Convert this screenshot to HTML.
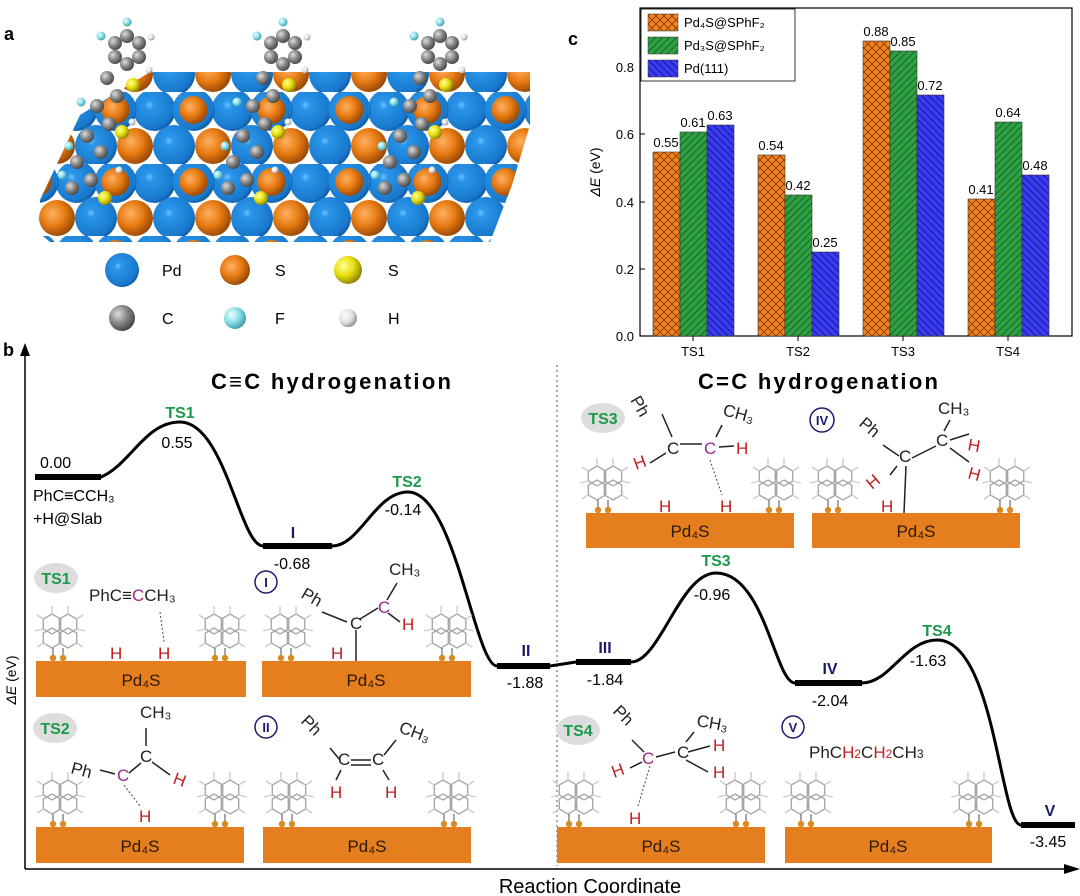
<!DOCTYPE html>
<html><head><meta charset="utf-8"><style>
body{margin:0;background:#fff}
svg{display:block;font-family:"Liberation Sans",Arial,sans-serif}
</style></head><body>
<svg width="1080" height="896" viewBox="0 0 1080 896" xmlns="http://www.w3.org/2000/svg">
<defs>
<radialGradient id="gb" cx="0.38" cy="0.38" r="0.7"><stop offset="0" stop-color="#6ec0ff"/><stop offset="0.15" stop-color="#2a96ea"/><stop offset="0.8" stop-color="#1878cc"/><stop offset="1" stop-color="#0c4f90"/></radialGradient>
<radialGradient id="go" cx="0.38" cy="0.38" r="0.7"><stop offset="0" stop-color="#ffb060"/><stop offset="0.5" stop-color="#e67a12"/><stop offset="1" stop-color="#8a4005"/></radialGradient>
<radialGradient id="gy" cx="0.35" cy="0.35" r="0.7"><stop offset="0" stop-color="#ffff9a"/><stop offset="0.5" stop-color="#e8e010"/><stop offset="1" stop-color="#8a8000"/></radialGradient>
<radialGradient id="gg" cx="0.35" cy="0.35" r="0.7"><stop offset="0" stop-color="#ddd"/><stop offset="0.5" stop-color="#888"/><stop offset="1" stop-color="#444"/></radialGradient>
<radialGradient id="gc" cx="0.35" cy="0.35" r="0.7"><stop offset="0" stop-color="#eaffff"/><stop offset="0.5" stop-color="#8ee0e8"/><stop offset="1" stop-color="#3a9aa8"/></radialGradient>
<radialGradient id="gw" cx="0.35" cy="0.35" r="0.7"><stop offset="0" stop-color="#fff"/><stop offset="0.6" stop-color="#ddd"/><stop offset="1" stop-color="#888"/></radialGradient>
<pattern id="slab" x="57" y="20" width="78" height="72" patternUnits="userSpaceOnUse">
<circle cx="19.5" cy="18" r="21" fill="url(#gb)"/><circle cx="58.5" cy="18" r="21" fill="url(#gb)"/>
<circle cx="39" cy="54" r="21" fill="url(#gb)"/>
<circle cx="-19.5" cy="18" r="21" fill="url(#gb)"/><circle cx="97.5" cy="18" r="21" fill="url(#gb)"/>
<circle cx="58.5" cy="18" r="14" fill="url(#go)"/>
<circle cx="0" cy="54" r="18" fill="url(#go)"/><circle cx="78" cy="54" r="18" fill="url(#go)"/>
</pattern>
<pattern id="hatchX" width="8" height="8" patternUnits="userSpaceOnUse"><rect width="8" height="8" fill="#f58220"/><path d="M0 0L8 8M8 0L0 8" stroke="#7a3a00" stroke-width="0.8"/></pattern>
<pattern id="hatchG" width="7" height="7" patternUnits="userSpaceOnUse"><rect width="7" height="7" fill="#2ea043"/><path d="M0 7L7 0M-2 2L2 -2M5 9L9 5" stroke="#105a20" stroke-width="0.8"/></pattern>
<pattern id="hatchB" width="7" height="7" patternUnits="userSpaceOnUse"><rect width="7" height="7" fill="#3a3af0"/><path d="M0 0L7 7M-2 5L2 9M5 -2L9 2" stroke="#10108a" stroke-width="0.8"/></pattern>
<g id="cl">
<g stroke="#a8a8a8" stroke-width="1.4" fill="none">
<polygon points="18,10 26.7,15 26.7,25 18,30 9.3,25 9.3,15"/>
<polygon points="34,10 42.7,15 42.7,25 34,30 25.3,25 25.3,15"/>
<polygon points="18,24 26.7,29 26.7,39 18,44 9.3,39 9.3,29"/>
<polygon points="34,24 42.7,29 42.7,39 34,44 25.3,39 25.3,29"/>
<path d="M18 10V2 M34 10V2 M9.3 15L3 11 M42.7 15L49 11 M9.3 39L3 43 M42.7 39L49 43 M9.3 25L1 27 M42.7 25L51 27" stroke="#ccc"/>
</g>
<path d="M19 44V54 M29 44V54" stroke="#777" stroke-width="1.3"/>
<circle cx="19" cy="54" r="3.2" fill="#d98a20"/><circle cx="29" cy="54" r="3.2" fill="#d98a20"/>
</g>
<g id="mol">
<g fill="url(#gg)"><circle cx="0" cy="-14" r="7"/><circle cx="12" cy="-7" r="7"/><circle cx="12" cy="7" r="7"/><circle cx="0" cy="14" r="7"/><circle cx="-12" cy="7" r="7"/><circle cx="-12" cy="-7" r="7"/>
<circle cx="-20" cy="28" r="7"/><circle cx="-10" cy="46" r="7"/><circle cx="-30" cy="56" r="7"/><circle cx="-18" cy="74" r="7"/><circle cx="-40" cy="86" r="7"/><circle cx="-26" cy="102" r="7"/><circle cx="-50" cy="112" r="7"/><circle cx="-36" cy="130" r="7"/><circle cx="-55" cy="138" r="7"/></g>
<g fill="url(#gc)"><circle cx="0" cy="-28" r="4.5"/><circle cx="-26" cy="-14" r="4.5"/><circle cx="-46" cy="52" r="4.5"/><circle cx="-58" cy="96" r="4.5"/><circle cx="-65" cy="125" r="4.5"/></g>
<g fill="url(#gw)"><circle cx="24" cy="-13" r="3.5"/><circle cx="22" cy="20" r="3.5"/><circle cx="5" cy="72" r="3.5"/><circle cx="-8" cy="120" r="3.5"/></g>
<g fill="url(#gy)"><circle cx="6" cy="35" r="7"/><circle cx="-5" cy="82" r="7"/><circle cx="-22" cy="148" r="7"/></g>
</g>
</defs>

<!-- panel a -->
<text x="4" y="40" font-size="18" font-weight="bold">a</text>
<polygon points="38,232 50,242 490,242 512,185 530,125 530,72 150,72 80,115 40,200" fill="url(#slab)"/>
<use href="#mol" x="127" y="50"/><use href="#mol" x="283" y="50"/><use href="#mol" x="440" y="50"/>

<g font-size="16">
<circle cx="122" cy="270" r="17" fill="url(#gb)"/><text x="162" y="276">Pd</text>
<circle cx="235" cy="270" r="15" fill="url(#go)"/><text x="275" y="276">S</text>
<circle cx="348" cy="270" r="14" fill="url(#gy)"/><text x="388" y="276">S</text>
<circle cx="122" cy="318" r="13" fill="url(#gg)"/><text x="162" y="324">C</text>
<circle cx="235" cy="318" r="11" fill="url(#gc)"/><text x="275" y="324">F</text>
<circle cx="348" cy="318" r="9" fill="url(#gw)"/><text x="388" y="324">H</text>
</g>

<!-- panel c -->
<text x="568" y="45" font-size="18" font-weight="bold">c</text>
<rect x="640" y="8" width="432" height="328" fill="none" stroke="#000" stroke-width="1.2"/>
<g font-size="13" text-anchor="end">
<text x="634" y="341">0.0</text><text x="634" y="274">0.2</text><text x="634" y="207">0.4</text><text x="634" y="139">0.6</text><text x="634" y="72">0.8</text>
</g>
<g stroke="#000"><line x1="640" y1="269" x2="645" y2="269"/><line x1="640" y1="202" x2="645" y2="202"/><line x1="640" y1="134" x2="645" y2="134"/><line x1="640" y1="67" x2="645" y2="67"/>
<line x1="693" y1="336" x2="693" y2="341"/><line x1="798" y1="336" x2="798" y2="341"/><line x1="903" y1="336" x2="903" y2="341"/><line x1="1008" y1="336" x2="1008" y2="341"/></g>
<text x="600" y="172" font-size="14" transform="rotate(-90 600 172)" text-anchor="middle"><tspan font-style="italic">ΔE</tspan> (eV)</text>
<g font-size="13" text-anchor="middle"><text x="693" y="356">TS1</text><text x="798" y="356">TS2</text><text x="903" y="356">TS3</text><text x="1008" y="356">TS4</text></g>
<g stroke="#333" stroke-width="0.6">
<rect x="653" y="152" width="27" height="184" fill="url(#hatchX)"/><rect x="680" y="132" width="27" height="204" fill="url(#hatchG)"/><rect x="707" y="125" width="27" height="211" fill="url(#hatchB)"/>
<rect x="758" y="155" width="27" height="181" fill="url(#hatchX)"/><rect x="785" y="195" width="27" height="141" fill="url(#hatchG)"/><rect x="812" y="252" width="27" height="84" fill="url(#hatchB)"/>
<rect x="863" y="41" width="27" height="295" fill="url(#hatchX)"/><rect x="890" y="51" width="27" height="285" fill="url(#hatchG)"/><rect x="917" y="95" width="27" height="241" fill="url(#hatchB)"/>
<rect x="968" y="199" width="27" height="137" fill="url(#hatchX)"/><rect x="995" y="122" width="27" height="214" fill="url(#hatchG)"/><rect x="1022" y="175" width="27" height="161" fill="url(#hatchB)"/>
</g>
<g font-size="13" text-anchor="middle">
<text x="666" y="147">0.55</text><text x="693" y="127">0.61</text><text x="720" y="120">0.63</text>
<text x="771" y="150">0.54</text><text x="798" y="190">0.42</text><text x="825" y="247">0.25</text>
<text x="876" y="36">0.88</text><text x="903" y="46">0.85</text><text x="930" y="90">0.72</text>
<text x="981" y="194">0.41</text><text x="1008" y="117">0.64</text><text x="1035" y="170">0.48</text>
</g>
<rect x="641" y="9" width="154" height="72" fill="#fff" stroke="#000" stroke-width="0.8"/>
<g font-size="13">
<rect x="648" y="14" width="30" height="17" fill="url(#hatchX)" stroke="#333" stroke-width="0.5"/><text x="684" y="27">Pd₄S@SPhF₂</text>
<rect x="648" y="37" width="30" height="17" fill="url(#hatchG)" stroke="#333" stroke-width="0.5"/><text x="684" y="50">Pd₃S@SPhF₂</text>
<rect x="648" y="60" width="30" height="17" fill="url(#hatchB)" stroke="#333" stroke-width="0.5"/><text x="684" y="73">Pd(111)</text>
</g>

<!-- panel b -->
<text x="3" y="356" font-size="18" font-weight="bold">b</text>
<line x1="25" y1="869" x2="25" y2="352" stroke="#000" stroke-width="1.5"/>
<polygon points="25,343 20,356 30,356" fill="#000"/>
<line x1="25" y1="869" x2="1068" y2="869" stroke="#000" stroke-width="1.5"/>
<polygon points="1080,869 1064,864 1064,874" fill="#000"/>
<text x="590" y="893" font-size="20" text-anchor="middle">Reaction Coordinate</text>
<text x="16" y="680" font-size="14" transform="rotate(-90 16 680)" text-anchor="middle"><tspan font-style="italic">ΔE</tspan> (eV)</text>
<line x1="557" y1="365" x2="557" y2="866" stroke="#555" stroke-dasharray="2,3"/>
<g font-size="22" font-weight="bold" text-anchor="middle"><text x="331" y="389" textLength="240">C≡C hydrogenation</text><text x="818" y="389" textLength="240">C=C hydrogenation</text></g>

<path d="M35 477 H101 C130 465 145 422 180 422 C225 422 240 546 263 546 H332 C360 546 375 492 408 492 C455 492 475 666 497 666 H550 L576 662 H631 C660 662 680 573 716 573 C765 573 775 683 795 683 H862 C890 683 905 640 937 640 C995 640 1000 825 1021 825 H1075" fill="none" stroke="#000" stroke-width="3"/>
<g stroke="#000" stroke-width="6"><line x1="35" y1="477" x2="101" y2="477"/><line x1="263" y1="546" x2="332" y2="546"/><line x1="497" y1="666" x2="550" y2="666"/><line x1="576" y1="662" x2="631" y2="662"/><line x1="795" y1="683" x2="862" y2="683"/><line x1="1021" y1="825" x2="1075" y2="825"/></g>

<g font-size="16">
<text x="40" y="468">0.00</text><text x="33" y="501">PhC≡CCH₃</text><text x="33" y="524">+H@Slab</text>
<text x="180" y="418" fill="#1a9a4a" font-weight="bold" text-anchor="middle">TS1</text><text x="177" y="448" text-anchor="middle">0.55</text>
<text x="293" y="538" fill="#1a1a6e" font-weight="bold" text-anchor="middle">I</text><text x="292" y="569" text-anchor="middle">-0.68</text>
<text x="407" y="487" fill="#1a9a4a" font-weight="bold" text-anchor="middle">TS2</text><text x="403" y="515" text-anchor="middle">-0.14</text>
<text x="526" y="656" fill="#1a1a6e" font-weight="bold" text-anchor="middle">II</text><text x="525" y="688" text-anchor="middle">-1.88</text>
<text x="605" y="653" fill="#1a1a6e" font-weight="bold" text-anchor="middle">III</text><text x="605" y="685" text-anchor="middle">-1.84</text>
<text x="716" y="566" fill="#1a9a4a" font-weight="bold" text-anchor="middle">TS3</text><text x="712" y="600" text-anchor="middle">-0.96</text>
<text x="830" y="674" fill="#1a1a6e" font-weight="bold" text-anchor="middle">IV</text><text x="830" y="706" text-anchor="middle">-2.04</text>
<text x="937" y="636" fill="#1a9a4a" font-weight="bold" text-anchor="middle">TS4</text><text x="928" y="666" text-anchor="middle">-1.63</text>
<text x="1050" y="816" fill="#1a1a6e" font-weight="bold" text-anchor="middle">V</text><text x="1048" y="847" text-anchor="middle">-3.45</text>
</g>

<!-- substrate boxes -->
<g fill="#e57e1e">
<rect x="36" y="661" width="210" height="36"/><rect x="262" y="661" width="209" height="36"/>
<rect x="36" y="827" width="208" height="36"/><rect x="263" y="827" width="208" height="36"/>
<rect x="586" y="513" width="208" height="35"/><rect x="812" y="513" width="208" height="35"/>
<rect x="557" y="827" width="208" height="36"/><rect x="785" y="827" width="207" height="36"/>
</g>
<g font-size="17" text-anchor="middle" fill="#2a1a0a">
<text x="141" y="686">Pd₄S</text><text x="366" y="686">Pd₄S</text><text x="140" y="852">Pd₄S</text><text x="367" y="852">Pd₄S</text>
<text x="690" y="537">Pd₄S</text><text x="916" y="537">Pd₄S</text><text x="661" y="852">Pd₄S</text><text x="888" y="852">Pd₄S</text>
</g>
<use href="#cl" x="34" y="604"/><use href="#cl" x="196" y="604"/><use href="#cl" x="262" y="604"/><use href="#cl" x="423" y="604"/>
<use href="#cl" x="34" y="770"/><use href="#cl" x="196" y="770"/><use href="#cl" x="263" y="770"/><use href="#cl" x="425" y="770"/>
<use href="#cl" x="579" y="456"/><use href="#cl" x="750" y="456"/><use href="#cl" x="809" y="456"/><use href="#cl" x="981" y="456"/>
<use href="#cl" x="550" y="770"/><use href="#cl" x="717" y="770"/><use href="#cl" x="782" y="770"/><use href="#cl" x="950" y="770"/>

<g fill="#ddd"><ellipse cx="56" cy="578" rx="22" ry="15"/><ellipse cx="55" cy="728" rx="22" ry="15"/><ellipse cx="603" cy="418" rx="22" ry="15"/><ellipse cx="578" cy="730" rx="22" ry="15"/></g>
<g font-size="16" font-weight="bold" fill="#1a9a4a" text-anchor="middle"><text x="56" y="584">TS1</text><text x="55" y="734">TS2</text><text x="603" y="424">TS3</text><text x="578" y="736">TS4</text></g>
<g fill="none" stroke="#1a1a6e" stroke-width="1.5"><circle cx="266" cy="582" r="11"/><circle cx="266" cy="727" r="11"/><circle cx="822" cy="420" r="12"/><circle cx="793" cy="727" r="11"/></g>
<g font-size="13" font-weight="bold" fill="#1a1a6e" text-anchor="middle"><text x="266" y="587">I</text><text x="266" y="732">II</text><text x="822" y="425">IV</text><text x="793" y="732">V</text></g>

<g font-size="17" fill="#222">
<text x="89" y="601">PhC≡<tspan fill="#9a2a8a">C</tspan>CH₃</text>
<text x="110" y="659" fill="#c02020">H</text><text x="158" y="659" fill="#c02020">H</text>
<text x="300" y="597" transform="rotate(30 300 597)">Ph</text><text x="350" y="629">C</text><text x="378" y="613" fill="#9a2a8a">C</text><text x="389" y="575">CH₃</text><text x="402" y="630" fill="#c02020">H</text><text x="331" y="659" fill="#c02020">H</text>
<text x="70" y="773" transform="rotate(15 70 773)">Ph</text><text x="117" y="781" fill="#9a2a8a">C</text><text x="140" y="762">C</text><text x="140" y="718">CH₃</text><text x="172" y="783" fill="#c02020" transform="rotate(20 172 783)">H</text><text x="139" y="822" fill="#c02020">H</text>
<text x="300" y="722" transform="rotate(45 300 722)">Ph</text><text x="338" y="765">C</text><text x="372" y="765">C</text><text x="398" y="732" transform="rotate(20 398 732)">CH₃</text><text x="330" y="798" fill="#c02020">H</text><text x="385" y="798" fill="#c02020">H</text>
<text x="630" y="400" transform="rotate(60 630 400)">Ph</text><text x="667" y="454">C</text><text x="704" y="454" fill="#9a2a8a">C</text><text x="722" y="415" transform="rotate(15 722 415)">CH₃</text><text x="736" y="454" fill="#c02020">H</text><text x="636" y="470" fill="#c02020" transform="rotate(-20 636 470)">H</text><text x="659" y="512" fill="#c02020">H</text><text x="720" y="512" fill="#c02020">H</text>
<text x="858" y="425" transform="rotate(40 858 425)">Ph</text><text x="899" y="462">C</text><text x="936" y="446">C</text><text x="938" y="414">CH₃</text><text x="967" y="450" fill="#c02020" transform="rotate(10 967 450)">H</text><text x="967" y="478" fill="#c02020" transform="rotate(15 967 478)">H</text><text x="872" y="490" fill="#c02020" transform="rotate(-40 872 490)">H</text><text x="881" y="512" fill="#c02020">H</text>
<text x="612" y="712" transform="rotate(45 612 712)">Ph</text><text x="642" y="764" fill="#9a2a8a">C</text><text x="677" y="758">C</text><text x="696" y="726" transform="rotate(10 696 726)">CH₃</text><text x="713" y="751" fill="#c02020">H</text><text x="713" y="778" fill="#c02020">H</text><text x="614" y="778" fill="#c02020" transform="rotate(-20 614 778)">H</text><text x="629" y="824" fill="#c02020">H</text>
<text x="809" y="758">PhC<tspan fill="#c02020">H<tspan font-size="12">2</tspan></tspan>C<tspan fill="#c02020">H<tspan font-size="12">2</tspan></tspan>CH<tspan font-size="12">3</tspan></text>
</g>
<g stroke="#222" stroke-width="1.5" fill="none">
<path d="M322 612 L347 622 M360 619 L378 608 M387 600 L397 583 M388 613 L400 622 M356 630 V661"/>
<path d="M100 770 L115 774 M129 773 L141 763 M146 746 V728 M152 762 L170 775"/>
<path d="M330 748 L340 760 M351 760 H371 M351 765 H371 M384 755 L396 740 M341 770 L336 780 M383 770 L389 780"/>
<path d="M662 414 L672 437 M680 444 H702 M716 437 L722 425 M719 447 L734 446 M666 453 L650 463"/>
<path d="M883 445 L899 456 M912 458 L936 446 M944 431 L950 420 M950 440 L969 434 M950 448 L969 462 M906 466 L904 513 M897 466 L890 475"/>
<path d="M632 740 L644 752 M656 757 L675 752 M686 742 L694 732 M688 752 L710 746 M686 760 L708 772 M642 762 L630 768"/>
</g>
<g stroke="#444" stroke-dasharray="2,2" fill="none"><path d="M160 612 L164 642 M124 785 L140 806 M710 460 L722 495 M650 766 L638 806"/></g>
</svg>
</body></html>
